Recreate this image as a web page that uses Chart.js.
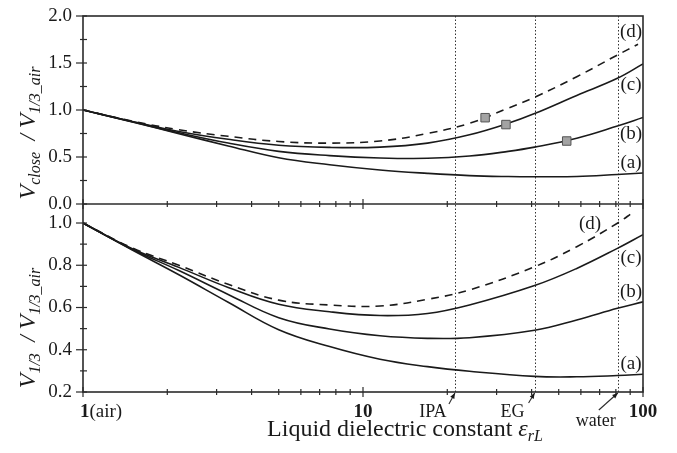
<!DOCTYPE html>
<html>
<head>
<meta charset="utf-8">
<script src="https://cdn.jsdelivr.net/npm/chart.js@4.4.1/dist/chart.umd.min.js"></script>
<style>
  html, body { margin: 0; padding: 0; background: #fff; }
</style>
</head>
<body>
<canvas id="chart" width="677" height="453"></canvas>
<script>
// ---------- data (x = liquid dielectric constant, log axis) ----------
const epsTop  = [1, 1.5, 2.2, 3.3, 5, 7.6, 11.5, 17, 24, 33, 41, 58, 81, 100];
const topA    = [1.0, 0.872, 0.748, 0.618, 0.492, 0.418, 0.362, 0.326, 0.302, 0.292, 0.29, 0.292, 0.314, 0.33];
const topB    = [1.0, 0.875, 0.758, 0.648, 0.56, 0.515, 0.49, 0.486, 0.51, 0.56, 0.605, 0.70, 0.83, 0.92];
const topC    = [1.0, 0.878, 0.772, 0.688, 0.625, 0.602, 0.605, 0.648, 0.736, 0.858, 0.962, 1.155, 1.337, 1.49];
const epsTopD = [1, 1.5, 2.2, 3.3, 5, 7.6, 11.5, 17, 24, 33, 41, 58, 81, 96];
const topD    = [1.0, 0.882, 0.79, 0.72, 0.665, 0.648, 0.67, 0.75, 0.858, 1.02, 1.135, 1.354, 1.585, 1.70];

const epsBot  = [1, 1.5, 2.2, 3.3, 5, 7.6, 11.5, 17, 24, 41, 58, 81, 100];
const botA    = [1.0, 0.872, 0.755, 0.625, 0.495, 0.415, 0.355, 0.32, 0.298, 0.274, 0.272, 0.278, 0.284];
const botB    = [1.0, 0.875, 0.775, 0.662, 0.552, 0.498, 0.466, 0.454, 0.457, 0.492, 0.541, 0.596, 0.627];
const botC    = [1.0, 0.878, 0.79, 0.695, 0.615, 0.58, 0.562, 0.572, 0.612, 0.704, 0.785, 0.88, 0.945];
const epsBotD = [1, 1.5, 2.2, 3.3, 5, 7.6, 11.5, 17, 24, 41, 58, 81, 92];
const botD    = [1.0, 0.882, 0.8, 0.71, 0.635, 0.612, 0.607, 0.639, 0.683, 0.793, 0.888, 0.999, 1.05];

// measured points (grey squares, upper panel)
const markEps = [27.3, 32.4, 53.4];
const markVal = [0.918, 0.845, 0.67];

// reference liquids (dotted lines)
const liqEps   = [21.3, 41, 81.3];
const liqNames = ["IPA", "EG", "water"];

// ticks
const xMajor = [1, 10, 100];
const xMinor = [2, 3, 4, 5, 6, 7, 8, 9, 20, 30, 40, 50, 60, 70, 80, 90];
const yTopMajor = [0, 0.5, 1.0, 1.5, 2.0];
const yTopMinor = [0.25, 0.75, 1.25, 1.75];
const yBotMajor = [0.2, 0.4, 0.6, 0.8, 1.0];
const yBotMinor = [0.3, 0.5, 0.7, 0.9];

const SERIF = '"Liberation Serif", "DejaVu Serif", serif';
const INK = "#1a1a1a";

const pts = (xs, ys) => xs.map((x, i) => ({ x, y: ys[i] }));
const curve = (xs, ys, axis, dashed) => ({
  data: pts(xs, ys), yAxisID: axis,
  borderColor: INK, borderWidth: 1.6, borderDash: dashed ? [8, 6] : [],
  pointRadius: 0, tension: 0.4, fill: false,
});

// draw a row of text pieces [text, font, dy]
function runs(ctx, x, y, parts, align) {
  let w = 0;
  parts.forEach((p) => { ctx.font = p[1]; w += ctx.measureText(p[0]).width; });
  let cx = align === "center" ? x - w / 2 : align === "right" ? x - w : x;
  ctx.textAlign = "left";
  parts.forEach((p) => { ctx.font = p[1]; ctx.fillText(p[0], cx, y + (p[2] || 0)); cx += ctx.measureText(p[0]).width; });
}

function arrow(ctx, x1, y1, x2, y2) {
  const a = Math.atan2(y2 - y1, x2 - x1), h = 6;
  ctx.beginPath(); ctx.moveTo(x1, y1); ctx.lineTo(x2, y2); ctx.stroke();
  ctx.beginPath();
  ctx.moveTo(x2, y2);
  ctx.lineTo(x2 - h * Math.cos(a - 0.4), y2 - h * Math.sin(a - 0.4));
  ctx.lineTo(x2 - h * Math.cos(a + 0.4), y2 - h * Math.sin(a + 0.4));
  ctx.closePath(); ctx.fill();
}

const decor = {
  id: "decor",
  beforeDatasetsDraw(chart) {
    const { ctx, scales: { x, yTop, yBot } } = chart;
    ctx.save();
    ctx.strokeStyle = "#333"; ctx.lineWidth = 1; ctx.setLineDash([1.5, 2]);
    liqEps.forEach((e) => {
      const px = Math.round(x.getPixelForValue(e)) + 0.5;
      ctx.beginPath(); ctx.moveTo(px, yTop.top); ctx.lineTo(px, yBot.bottom); ctx.stroke();
    });
    ctx.restore();
  },
  afterDraw(chart) {
    const { ctx, scales: { x, yTop, yBot } } = chart;
    const L = x.left, R = x.right, T = yTop.top, M = yTop.bottom, B = yBot.bottom;
    ctx.save();
    ctx.strokeStyle = "#2b2b2b"; ctx.fillStyle = INK; ctx.lineWidth = 1.6;
    ctx.strokeRect(L, T, R - L, B - T);
    ctx.beginPath(); ctx.moveTo(L, M); ctx.lineTo(R, M); ctx.stroke();

    // x ticks on both panel bottoms
    ctx.lineWidth = 1.2;
    [M, B].forEach((yy) => {
      xMajor.forEach((v) => { const px = x.getPixelForValue(v); ctx.beginPath(); ctx.moveTo(px, yy - 5); ctx.lineTo(px, yy + 5); ctx.stroke(); });
      xMinor.forEach((v) => { const px = x.getPixelForValue(v); ctx.beginPath(); ctx.moveTo(px, yy - 3); ctx.lineTo(px, yy + 3); ctx.stroke(); });
    });
    // y ticks + labels
    ctx.textBaseline = "middle"; ctx.textAlign = "right"; ctx.font = "19px " + SERIF;
    [[yTop, yTopMajor, yTopMinor], [yBot, yBotMajor, yBotMinor]].forEach(([s, maj, min]) => {
      maj.forEach((v) => {
        const py = s.getPixelForValue(v);
        ctx.beginPath(); ctx.moveTo(L - 7, py); ctx.lineTo(L + 4, py); ctx.stroke();
        ctx.fillText(v.toFixed(1), L - 11, py);
      });
      min.forEach((v) => {
        const py = s.getPixelForValue(v);
        ctx.beginPath(); ctx.moveTo(L - 3, py); ctx.lineTo(L + 4, py); ctx.stroke();
      });
    });

    // x tick labels
    ctx.textBaseline = "alphabetic";
    const base = B + 25;
    runs(ctx, L - 3, base, [["1", "bold 19px " + SERIF], ["(air)", "19px " + SERIF]], "left");
    runs(ctx, x.getPixelForValue(10), base, [["10", "bold 19px " + SERIF]], "center");
    runs(ctx, R, base, [["100", "bold 19px " + SERIF]], "center");

    // liquid labels with arrows: [label dy, arrow tail dx, arrow tail dy]
    ctx.lineWidth = 1.1;
    const lab = [[0, -6, 12], [0, -6, 11], [9, -19, 18]];
    liqEps.forEach((e, i) => {
      const px = x.getPixelForValue(e);
      const [dy, ax, ay] = lab[i];
      ctx.font = "18px " + SERIF;
      ctx.textAlign = "center";
      ctx.fillText(liqNames[i], px - 22, base + dy);
      arrow(ctx, px + ax, B + ay, px, B + 1);
    });

    // x title
    runs(ctx, 405, B + 44, [["Liquid dielectric constant ", "24px " + SERIF], ["\u03b5", "italic 24px " + SERIF], ["rL", "italic 16px " + SERIF, 5]], "center");

    // curve labels
    ctx.font = "19px " + SERIF; ctx.textAlign = "center"; ctx.textBaseline = "middle";
    [["(d)", 631, 32], ["(c)", 631, 85], ["(b)", 631, 134], ["(a)", 631, 163],
     ["(d)", 590, 224], ["(c)", 631, 258], ["(b)", 631, 292], ["(a)", 631, 364]].forEach(([t, px, py]) => ctx.fillText(t, px, py));

    // y titles (rotated)
    ctx.textBaseline = "alphabetic";
    const it = (s) => "italic " + s + "px " + SERIF;
    [[133, [["V", it(24)], ["close", it(16), 5], ["  / ", it(23)], ["V", it(24)], ["1/3_air", it(16), 5]]],
     [328, [["V", it(24)], ["1/3", it(16), 5], ["  / ", it(23)], ["V", it(24)], ["1/3_air", it(16), 5]]]].forEach(([cy, parts]) => {
      ctx.save(); ctx.translate(35, cy); ctx.rotate(-Math.PI / 2);
      runs(ctx, 0, 0, parts, "center");
      ctx.restore();
    });
    ctx.restore();
  },
};

new Chart(document.getElementById("chart"), {
  type: "line",
  data: {
    datasets: [
      { data: pts(markEps, markVal), yAxisID: "yTop", showLine: false, order: -1,
        pointStyle: "rect", pointRadius: 6, pointBackgroundColor: "#a3a3a3", pointBorderColor: "#555", pointBorderWidth: 1 },
      curve(epsTop, topA, "yTop"), curve(epsTop, topB, "yTop"), curve(epsTop, topC, "yTop"), curve(epsTopD, topD, "yTop", true),
      curve(epsBot, botA, "yBot"), curve(epsBot, botB, "yBot"), curve(epsBot, botC, "yBot"), curve(epsBotD, botD, "yBot", true),
    ],
  },
  options: {
    responsive: false, animation: false, events: [],
    layout: { padding: { left: 83, right: 34, top: 16, bottom: 61 } },
    plugins: { legend: { display: false }, tooltip: { enabled: false } },
    scales: {
      x: { type: "logarithmic", min: 1, max: 100, display: false },
      yTop: { type: "linear", min: 0, max: 2, position: "left", stack: "panels", stackWeight: 1, weight: 1, display: false },
      yBot: { type: "linear", min: 0.2, max: 1.09, position: "left", stack: "panels", stackWeight: 1, weight: 0, display: false },
    },
  },
  plugins: [decor],
});
</script>
</body>
</html>
